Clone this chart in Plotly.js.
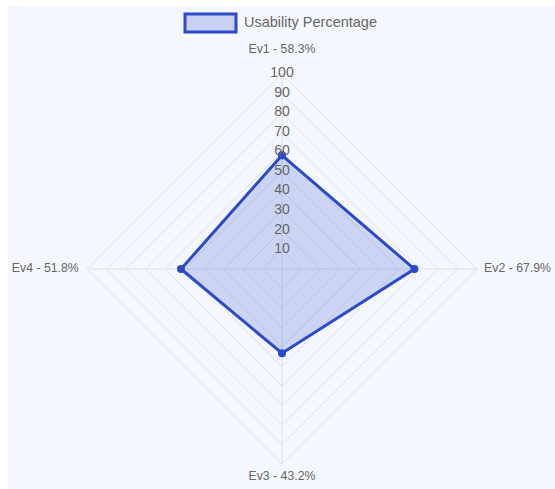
<!DOCTYPE html>
<html>
<head>
<meta charset="utf-8">
<script src="https://cdn.plot.ly/plotly-3.0.1.min.js"></script>
<style>
html,body{margin:0;padding:0;background:#ffffff;}
#chart{position:absolute;left:8px;top:6px;width:547px;height:483px;}
</style>
</head>
<body>
<div id="chart"></div>
<script>
const categories = ["Ev1", "Ev2", "Ev3", "Ev4"];
const usability = [58.3, 67.9, 43.2, 51.8];
const seriesName = "Usability Percentage";
const radialTicks = [10, 20, 30, 40, 50, 60, 70, 80, 90, 100];
const radialMax = 100;

const angLabels = categories.map((c, i) => c + " - " + usability[i].toFixed(1) + "%");
const closedTheta = angLabels.concat([angLabels[0]]);
const closedR = usability.concat([usability[0]]);

// point-label placement just outside the outer ring (layout styling only)
const labelRadius = [109, 103.6, 106.7, 104.2];
const labelPos = ["top center", "middle right", "middle center", "middle left"];

const blue = "#2b49c8";
const gridCol = "#dfe1e9";
const fontFam = "Liberation Sans, Arial, sans-serif";

// spokes from centre to the outer ring
const spokeR = [], spokeT = [];
angLabels.forEach(l => { spokeR.push(0, radialMax, null); spokeT.push(l, l, null); });

const traces = [
  {
    type: "scatterpolar",
    r: spokeR,
    theta: spokeT,
    mode: "lines",
    line: {color: gridCol, width: 1},
    connectgaps: false,
    showlegend: false,
    hoverinfo: "none"
  },
  {
    type: "scatterpolar",
    r: closedR,
    theta: closedTheta,
    name: seriesName,
    mode: "lines+markers",
    fill: "toself",
    fillcolor: "rgba(45,75,205,0.2)",
    line: {color: blue, width: 3},
    marker: {color: blue, size: 8},
    hoverinfo: "none",
    showlegend: false
  },
  {
    type: "scatterpolar",
    r: radialTicks,
    theta: radialTicks.map(() => angLabels[0]),
    mode: "text",
    text: radialTicks.map(String),
    textposition: "middle center",
    textfont: {family: fontFam, size: 14, color: "#666666"},
    showlegend: false,
    hoverinfo: "none"
  },
  {
    type: "scatterpolar",
    r: labelRadius,
    theta: angLabels,
    mode: "text",
    text: angLabels,
    textposition: labelPos,
    textfont: {family: fontFam, size: 12.3, color: "#666666"},
    cliponaxis: false,
    showlegend: false,
    hoverinfo: "none"
  }
];

const layout = {
  width: 547,
  height: 483,
  margin: {l: 0, r: 0, t: 0, b: 0},
  paper_bgcolor: "#f4f7fe",
  font: {family: fontFam, color: "#666666", size: 12},
  showlegend: false,
  shapes: [
    {
      type: "rect", xref: "paper", yref: "paper",
      x0: 0.3236, x1: 0.4168, y0: 0.9462, y1: 0.9834,
      fillcolor: "#c9d1f2",
      line: {color: blue, width: 3}
    }
  ],
  annotations: [
    {
      xref: "paper", yref: "paper",
      x: 0.428, y: 0.9669, xanchor: "left", yanchor: "middle",
      text: seriesName, showarrow: false,
      font: {family: fontFam, size: 14.5, color: "#666666"}
    }
  ],
  polar: {
    domain: {x: [0.0998, 0.9020], y: [0.0012, 0.9097]},
    bgcolor: "#f4f7fe",
    gridshape: "linear",
    radialaxis: {
      range: [0, 112.5],
      tickvals: radialTicks,
      showticklabels: false,
      ticks: "",
      showline: false,
      gridcolor: gridCol,
      gridwidth: 1
    },
    angularaxis: {
      categoryorder: "array",
      categoryarray: angLabels,
      direction: "clockwise",
      rotation: 90,
      showline: false,
      showgrid: false,
      ticks: "",
      showticklabels: false
    }
  }
};

Plotly.newPlot("chart", traces, layout, {displayModeBar: false, staticPlot: true});
</script>
</body>
</html>
